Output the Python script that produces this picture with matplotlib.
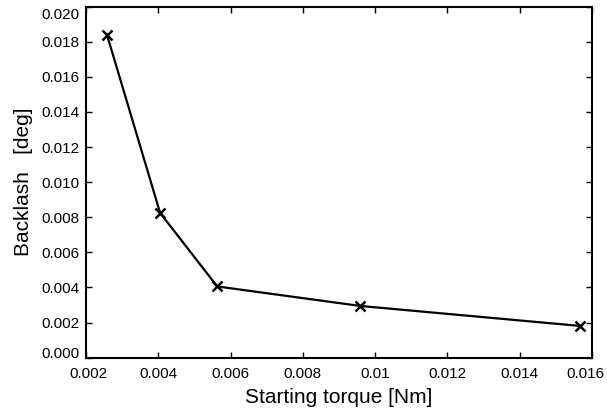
import matplotlib
matplotlib.use('Agg')
import matplotlib.pyplot as plt
from matplotlib.transforms import ScaledTranslation

plt.rcParams['font.family'] = ['Liberation Sans', 'DejaVu Sans']

# 데이터
torque = [0.00258, 0.00405, 0.00563, 0.00958, 0.01567]
backlash = [0.0184, 0.00825, 0.00406, 0.00295, 0.00181]
xticks = [0.002, 0.004, 0.006, 0.008, 0.010, 0.012, 0.014, 0.016]
xtick_labels = ['0.002', '0.004', '0.006', '0.008', '0.01', '0.012', '0.014', '0.016']
yticks = [0.000, 0.002, 0.004, 0.006, 0.008, 0.010, 0.012, 0.014, 0.016, 0.018, 0.020]

fig = plt.figure(figsize=(6.07, 4.17), dpi=100)
ax = fig.add_axes([0.1417, 0.1422, 0.8336, 0.8418])

ax.plot(torque, backlash, color='black', linewidth=1.6, marker='x',
        markersize=7, markeredgewidth=1.8)

ax.set_xlim(0.002, 0.016)
ax.set_ylim(0.0, 0.020)
ax.set_xticks(xticks)
ax.set_xticklabels(xtick_labels)
ax.set_yticks(yticks)
ax.set_yticklabels([f'{v:.3f}' for v in yticks])

ax.tick_params(direction='in', length=4, width=1, labelsize=11,
               top=True, right=True, colors='black')
ax.tick_params(axis='x', pad=7)
ax.tick_params(axis='y', pad=4.5)
for s in ax.spines.values():
    s.set_linewidth(1.5)

# 가장자리 눈금 라벨을 안쪽으로 살짝 이동
xl = ax.get_xticklabels()
xl[0].set_transform(xl[0].get_transform() + ScaledTranslation(0.02, 0, fig.dpi_scale_trans))
xl[-1].set_transform(xl[-1].get_transform() + ScaledTranslation(-0.07, 0, fig.dpi_scale_trans))
yl = ax.get_yticklabels()
yl[0].set_transform(yl[0].get_transform() + ScaledTranslation(0, 0.05, fig.dpi_scale_trans))
yl[-1].set_transform(yl[-1].get_transform() + ScaledTranslation(0, -0.07, fig.dpi_scale_trans))

ax.set_xlabel('Starting torque [Nm]', fontsize=15, labelpad=5)
ax.set_ylabel('Backlash   [deg]', fontsize=15, labelpad=6)

fig.savefig('out.png', dpi=100)
